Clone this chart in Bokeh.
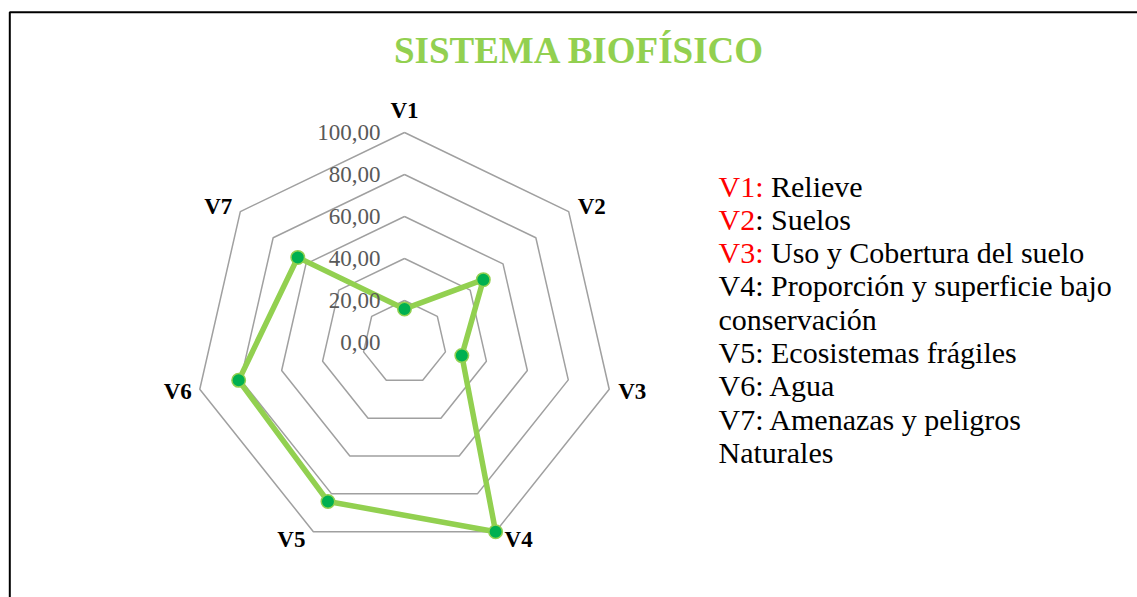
import math
from bokeh.plotting import figure
from bokeh.models import Range1d
from bokeh.core.properties import value
from bokeh.embed import file_html
from bokeh.resources import INLINE

# ---------------- data ----------------
categories = ["V1", "V2", "V3", "V4", "V5", "V6", "V7"]
values = [16, 48, 28, 100, 84, 81, 65]
ring_values = [20, 40, 60, 80, 100]
tick_values = [0, 20, 40, 60, 80, 100]
tick_labels = ["0,00", "20,00", "40,00", "60,00", "80,00", "100,00"]
title_text = "SISTEMA BIOFÍSICO"
legend_red = ["V1:", "V2", "V3:", "", "", "", "", "", ""]
legend_black = ["Relieve", ": Suelos", "Uso y Cobertura del suelo",
                "V4: Proporción y superficie bajo", "conservación",
                "V5: Ecosistemas frágiles", "V6: Agua",
                "V7: Amenazas y peligros", "Naturales"]

# ---------------- layout helpers ----------------
W, H = 1137, 597
K = 2.1                 # pixels per value unit
CX, CY = 404, 342       # radar centre on the picture


def X(px):
    return (px - CX) / K


def Y(py):
    return (CY - py) / K


FONT = value("Liberation Serif")
GREEN = "#92D050"
DARK_GREEN = "#00B050"

p = figure(width=W, height=H, output_backend="svg", toolbar_location=None,
           x_range=Range1d(X(0), X(W)), y_range=Range1d(Y(H), Y(0)),
           x_axis_type=None, y_axis_type=None, min_border=0,
           outline_line_color=None, background_fill_color="white",
           border_fill_color="white")
p.grid.visible = False

n = len(categories)
angles = [2 * math.pi * i / n for i in range(n)]

# frame border (left and top edges visible)
p.quad(left=[X(9.3)], right=[X(1400)], top=[Y(11.8)], bottom=[Y(900)],
       fill_color=None, line_color="#000000", line_width=2)

# grid rings
xs_r, ys_r = [], []
for r in ring_values:
    xs_r.append([r * math.sin(a) for a in angles] + [0.0])
    ys_r.append([r * math.cos(a) for a in angles] + [r])
p.multi_line(xs_r, ys_r, line_color="#A0A0A0", line_width=1.5)

# data series
dx = [v * math.sin(a) for v, a in zip(values, angles)]
dy = [v * math.cos(a) for v, a in zip(values, angles)]
p.line(dx + dx[:1], dy + dy[:1], line_color=GREEN, line_width=5.5,
       line_join="round")
p.scatter(dx, dy, size=13.5, fill_color=DARK_GREEN, line_color=GREEN,
          line_width=1.5)

# value tick labels along the V1 axis
p.text(x=[-24 / K] * len(tick_values), y=tick_values, text=tick_labels,
       text_font=FONT, text_font_size="23px", text_color="#595959",
       text_align="right", text_baseline="middle")

# category labels
top = ring_values[-1]
for cat, a in zip(categories, angles):
    s, c = math.sin(a), math.cos(a)
    vx, vy = top * s, top * c
    if s > 0.1:
        align, ox = "left", 9
    elif s < -0.1:
        align, ox = "right", -8
    else:
        align, ox = "center", 0
    oy = -22.5 if abs(s) < 0.1 else -8.5 * c
    p.text(x=[vx + ox / K], y=[vy - oy / K], text=[cat], text_font=FONT,
           text_font_size="23px", text_font_style="bold", text_color="#000000",
           text_align=align, text_baseline="middle")

# title
p.text(x=[X(579)], y=[Y(50)], text=[title_text], text_font=FONT,
       text_font_size="37px", text_font_style="bold", text_color=GREEN,
       text_align="center", text_baseline="middle")

# legend text block
LEG_FS = 30
adv = {"V": 0.722, "1": 0.5, "2": 0.5, "3": 0.5, ":": 0.278, " ": 0.25}
lx = 718
for i, (red, black) in enumerate(zip(legend_red, legend_black)):
    mid = 185.5 + 33.3 * i
    off = 0.0
    if red:
        p.text(x=[X(lx)], y=[Y(mid)], text=[red], text_font=FONT,
               text_font_size=f"{LEG_FS}px", text_color="#FF0000",
               text_align="left", text_baseline="middle")
        off = sum(adv.get(ch, 0.5) for ch in red)
        if not black.startswith(":"):
            off += adv[" "]
    p.text(x=[X(lx + off * LEG_FS)], y=[Y(mid)], text=[black], text_font=FONT,
           text_font_size=f"{LEG_FS}px", text_color="#000000",
           text_align="left", text_baseline="middle")

open("out.html", "w").write(file_html(p, INLINE))
